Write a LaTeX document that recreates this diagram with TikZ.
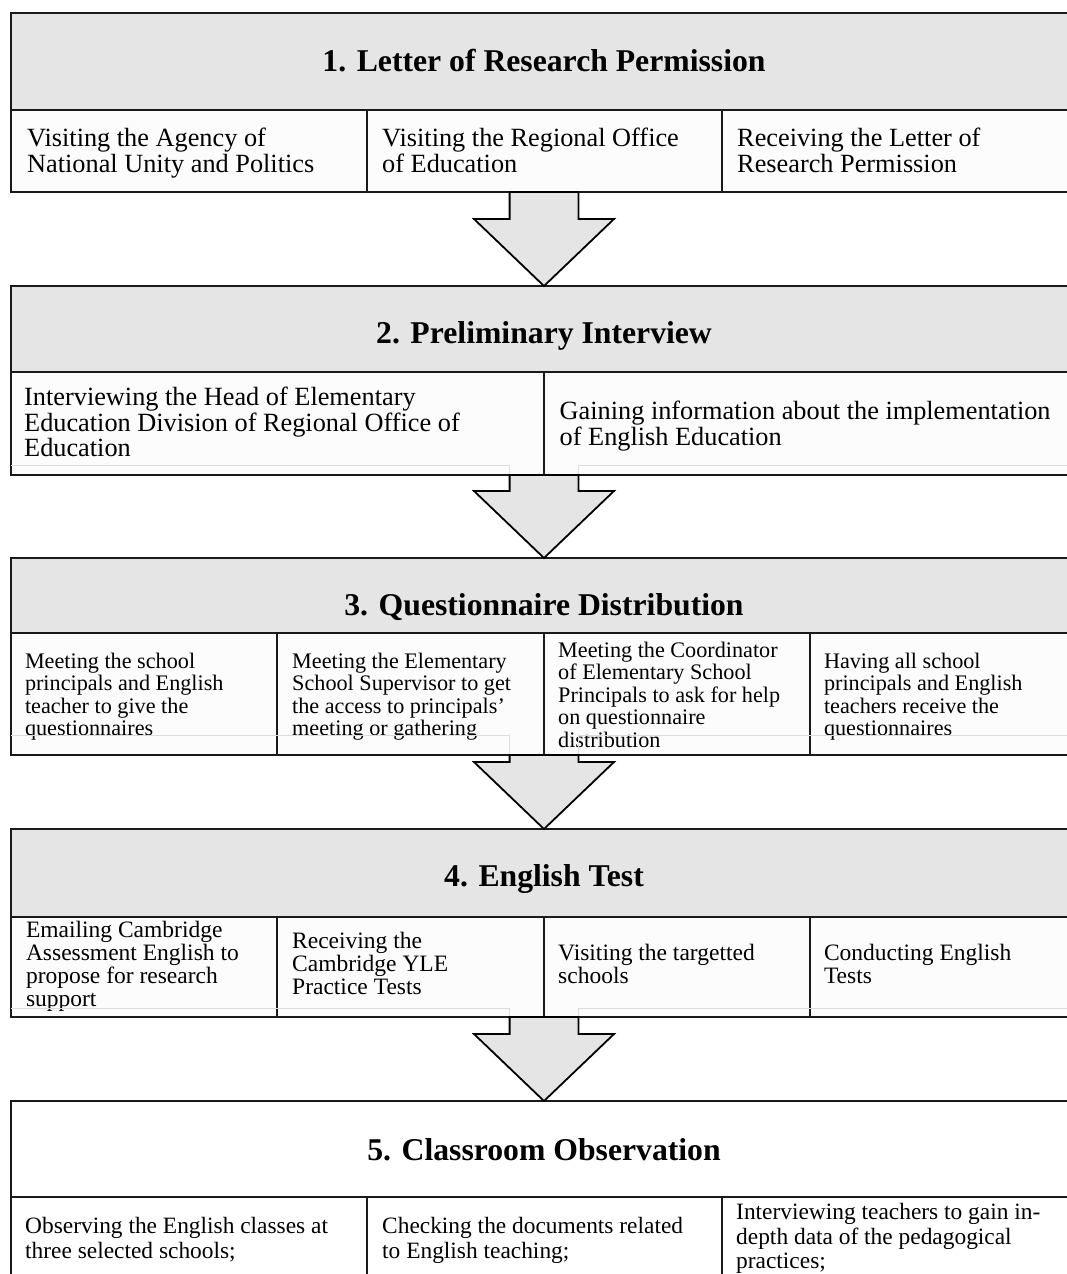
\documentclass[tikz,border=0pt]{standalone}
\usepackage{fontspec}
\setmainfont{Liberation Serif}
\usetikzlibrary{calc}
\definecolor{hdr}{HTML}{E5E5E5}
\definecolor{subfill}{HTML}{FCFCFC}
\definecolor{edgec}{HTML}{1A1A1A}
\definecolor{faintc}{HTML}{DCDCDC}
\newcommand{\fszA}{\fontsize{26.3pt}{25.8pt}\selectfont}
\newcommand{\fszC}{\fontsize{22.2pt}{22.4pt}\selectfont}
\newcommand{\fszD}{\fontsize{23.5pt}{23pt}\selectfont}
\newcommand{\fszE}{\fontsize{23.4pt}{24.8pt}\selectfont}
\newcommand{\tfix}{\rule{0pt}{20pt}}
\newcommand{\blockarrow}[2]{%
  \draw[barrow] let \p1=(#1), \p2=(#2) in
    (\x1-34.4pt,\y1) -- (\x1-34.4pt,\y2+67pt) -- (\x1-70pt,\y2+67pt) --
    (\x2,\y2) -- (\x1+70pt,\y2+67pt) -- (\x1+34.4pt,\y2+67pt) --
    (\x1+34.4pt,\y1) -- cycle;}
\tikzset{
  boxline/.style={draw=edgec, line width=2pt},
  hdrbox/.style={boxline, fill=hdr, anchor=north west, minimum width=1066pt,
    inner sep=0pt, outer sep=0pt},
  cellbox/.style={boxline, fill=subfill, anchor=north west, inner sep=0pt,
    outer sep=0pt},
  txt/.style={anchor=north west, inner sep=0pt, align=left},
  hdrtext/.style={anchor=base, font=\fontsize{31.7pt}{36pt}\selectfont\bfseries,
    inner sep=0pt},
  barrow/.style={draw=black, line width=1.8pt, fill=hdr, line join=miter},
  faintline/.style={draw=faintc, line width=1pt},
}
\begin{document}
\begin{tikzpicture}[x=1pt, y=-1pt]
\useasboundingbox (0,0) rectangle (1067,1274);
\clip (0,0) rectangle (1067,1274);
\fill[white] (0,0) rectangle (1067,1274);

% ---------- Box 1 ----------
\node[hdrbox, minimum height=97pt] (h1) at (11,13) {};
\node[hdrtext] (t1) at (544,71) {1. Letter of Research Permission};
\node[cellbox, minimum width=355.5pt, minimum height=82pt] (c11) at (11,110) {};
\node[cellbox, minimum width=355pt, minimum height=82pt] (c12) at (366.5,110) {};
\node[cellbox, minimum width=355.5pt, minimum height=82pt] (c13) at (721.5,110) {};
\node[txt, font=\fszA] (x11) at (27,126)
  {\tfix Visiting the Agency of\\National Unity and Politics};
\node[txt, font=\fszA] (x12) at (382,126)
  {\tfix Visiting the Regional Office\\of Education};
\node[txt, font=\fszA] (x13) at (737,126)
  {\tfix Receiving the Letter of\\Research Permission};

% ---------- Box 2 ----------
\node[hdrbox, minimum height=86pt] (h2) at (11,286) {};
\node[hdrtext] (t2) at (544,343) {2. Preliminary Interview};
\node[cellbox, minimum width=532.5pt, minimum height=103pt] (c21) at (11,372) {};
\node[cellbox, minimum width=533.5pt, minimum height=103pt] (c22) at (543.5,372) {};
\node[txt, font=\fszA] (x21) at (24,385)
  {\tfix Interviewing the Head of Elementary\\Education Division of Regional Office of\\Education};
\node[txt, font=\fszA] (x22) at (559.5,399)
  {\tfix Gaining information about the implementation\\of English Education};

% ---------- Box 3 ----------
\node[hdrbox, minimum height=75pt] (h3) at (11,558) {};
\node[hdrtext] (t3) at (544,615) {3. Questionnaire Distribution};
\node[cellbox, minimum width=266pt, minimum height=122pt] (c31) at (11,633) {};
\node[cellbox, minimum width=266.5pt, minimum height=122pt] (c32) at (277,633) {};
\node[cellbox, minimum width=266.5pt, minimum height=122pt] (c33) at (543.5,633) {};
\node[cellbox, minimum width=267pt, minimum height=122pt] (c34) at (810,633) {};
\node[txt, font=\fszC] (x31) at (24.8,648.3)
  {\tfix Meeting the school\\principals and English\\teacher to give the\\questionnaires};
\node[txt, font=\fszC] (x32) at (292,648.3)
  {\tfix Meeting the Elementary\\School Supervisor to get\\the access to principals’\\meeting or gathering};
\node[txt, font=\fszC] (x33) at (558,637.3)
  {\tfix Meeting the Coordinator\\of Elementary School\\Principals to ask for help\\on questionnaire\\distribution};
\node[txt, font=\fszC] (x34) at (823.8,648.3)
  {\tfix Having all school\\principals and English\\teachers receive the\\questionnaires};

% ---------- Box 4 ----------
\node[hdrbox, minimum height=88pt] (h4) at (11,829) {};
\node[hdrtext] (t4) at (544,886.5) {4. English Test};
\node[cellbox, minimum width=266pt, minimum height=100pt] (c41) at (11,917) {};
\node[cellbox, minimum width=266.5pt, minimum height=100pt] (c42) at (277,917) {};
\node[cellbox, minimum width=266.5pt, minimum height=100pt] (c43) at (543.5,917) {};
\node[cellbox, minimum width=267pt, minimum height=100pt] (c44) at (810,917) {};
\node[txt, font=\fszD] (x41) at (25.8,917.3)
  {\tfix Emailing Cambridge\\Assessment English to\\propose for research\\support};
\node[txt, font=\fszD] (x42) at (292,928.5)
  {\tfix Receiving the\\Cambridge YLE\\Practice Tests};
\node[txt, font=\fszD] (x43) at (558,940.7)
  {\tfix Visiting the targetted\\schools};
\node[txt, font=\fszD] (x44) at (823.8,940.7)
  {\tfix Conducting English\\Tests};

% ---------- Box 5 ----------
\node[hdrbox, fill=white, minimum height=96pt] (h5) at (11,1101) {};
\node[hdrtext] (t5) at (544,1160) {5. Classroom Observation};
\node[cellbox, fill=white, minimum width=355.5pt, minimum height=84pt] (c51) at (11,1197) {};
\node[cellbox, fill=white, minimum width=355pt, minimum height=84pt] (c52) at (366.5,1197) {};
\node[cellbox, fill=white, minimum width=355.5pt, minimum height=84pt] (c53) at (721.5,1197) {};
\node[txt, font=\fszE] (x51) at (25,1213)
  {\tfix Observing the English classes at\\three selected schools;};
\node[txt, font=\fszE] (x52) at (382,1213)
  {\tfix Checking the documents related\\to English teaching;};
\node[txt, font=\fszE] (x53) at (736,1199)
  {\tfix Interviewing teachers to gain in-\\depth data of the pedagogical\\practices;};

% ---------- faint traces ----------
\draw[faintline] (11,465) -- (509.6,465) -- (509.6,475);
\draw[faintline] (578.4,475) -- (578.4,465) -- (1077,465);
\draw[faintline] (11,735) -- (509.6,735) -- (509.6,755);
\draw[faintline] (578.4,755) -- (578.4,735) -- (1077,735);
\draw[faintline] (11,1008) -- (509.6,1008) -- (509.6,1017);
\draw[faintline] (578.4,1017) -- (578.4,1008) -- (1077,1008);

% ---------- block arrows ----------
\blockarrow{h2.north |- c11.south}{h2.north}
\blockarrow{h3.north |- c21.south}{h3.north}
\blockarrow{h4.north |- c31.south}{h4.north}
\blockarrow{h5.north |- c41.south}{h5.north}
\end{tikzpicture}
\end{document}
